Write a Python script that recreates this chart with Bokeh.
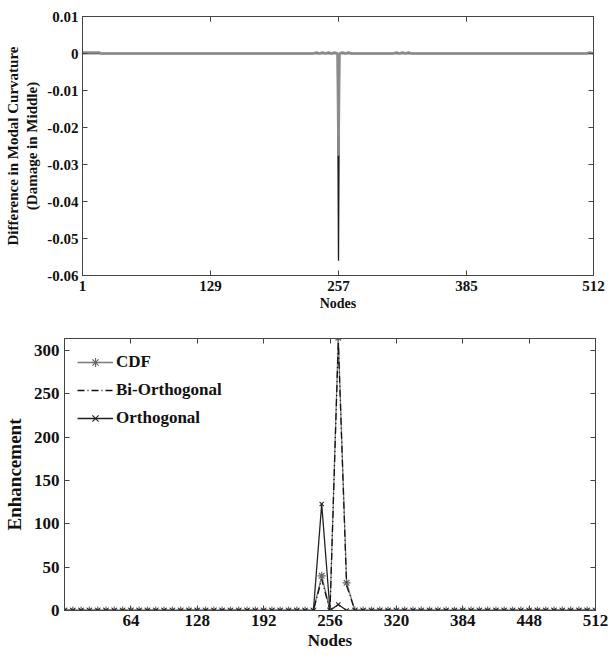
from bokeh.plotting import figure
from bokeh.models import FixedTicker, LinearAxis, Legend, LegendItem, Range1d
from bokeh.embed import file_html
from bokeh.resources import INLINE

# ---------------- data: top panel ----------------
top_x_ticks = [1, 129, 257, 385, 512]
top_y_ticks = [0.01, 0, -0.01, -0.02, -0.03, -0.04, -0.05, -0.06]
top_y_labels = ["0.01", "0", "-0.01", "-0.02", "-0.03", "-0.04", "-0.05", "-0.06"]

gray_nodes = [1, 18, 19, 232, 235, 238, 241, 244, 247, 250, 253, 256, 257, 258,
              261, 264, 267, 270, 312, 315, 318, 321, 324, 327, 330, 505, 508, 512]
gray_vals = [0.0003, 0.0003, 0.0, 0.0, 0.0003, 0.0, 0.0003, 0.0, 0.0003, 0.0, 0.0003, 0.0, -0.0276, 0.0,
             0.0003, 0.0, 0.0003, 0.0, 0.0, 0.0003, 0.0, 0.0003, 0.0, 0.0003, 0.0, 0.0, 0.0003, 0.0]

black_nodes = [1, 256, 257, 258, 512]
black_vals = [0.0, 0.0, -0.056, 0.0, 0.0]

# ---------------- data: bottom panel ----------------
bot_x_ticks = [64, 128, 192, 256, 320, 384, 448, 512]
bot_y_ticks = [0, 50, 100, 150, 200, 250, 300]

nodes = [0, 8, 16, 24, 32, 40, 48, 56, 64, 72, 80, 88, 96, 104, 112, 120,
         128, 136, 144, 152, 160, 168, 176, 184, 192, 200, 208, 216, 224, 232, 240, 248,
         256, 264, 272, 280, 288, 296, 304, 312, 320, 328, 336, 344, 352, 360, 368, 376,
         384, 392, 400, 408, 416, 424, 432, 440, 448, 456, 464, 472, 480, 488, 496, 504, 512]
cdf = [0, 0, 0, 0, 0, 0, 0, 0, 0, 0, 0, 0, 0, 0, 0, 0,
       0, 0, 0, 0, 0, 0, 0, 0, 0, 0, 0, 0, 0, 0, 0, 40,
       0, 315, 32, 0, 0, 0, 0, 0, 0, 0, 0, 0, 0, 0, 0, 0,
       0, 0, 0, 0, 0, 0, 0, 0, 0, 0, 0, 0, 0, 0, 0, 0, 0]
bi_orth = [0, 0, 0, 0, 0, 0, 0, 0, 0, 0, 0, 0, 0, 0, 0, 0,
           0, 0, 0, 0, 0, 0, 0, 0, 0, 0, 0, 0, 0, 0, 0, 36,
           0, 310, 29, 0, 0, 0, 0, 0, 0, 0, 0, 0, 0, 0, 0, 0,
           0, 0, 0, 0, 0, 0, 0, 0, 0, 0, 0, 0, 0, 0, 0, 0, 0]
orth = [0, 0, 0, 0, 0, 0, 0, 0, 0, 0, 0, 0, 0, 0, 0, 0,
        0, 0, 0, 0, 0, 0, 0, 0, 0, 0, 0, 0, 0, 0, 0, 123,
        0, 7, 0, 0, 0, 0, 0, 0, 0, 0, 0, 0, 0, 0, 0, 0,
        0, 0, 0, 0, 0, 0, 0, 0, 0, 0, 0, 0, 0, 0, 0, 0, 0]
series_names = ["CDF", "Bi-Orthogonal", "Orthogonal"]

FONT = "Liberation Serif"
FRAME = "#444444"


def style_axis(ax, size):
    ax.major_label_text_font = FONT
    ax.major_label_text_font_style = "bold"
    ax.major_label_text_font_size = size
    ax.major_label_text_color = "#111111"
    ax.axis_label_text_font = FONT
    ax.axis_label_text_font_style = "bold"
    ax.axis_label_text_color = "#111111"
    ax.axis_line_color = FRAME
    ax.major_tick_line_color = FRAME
    ax.major_tick_in = 5
    ax.major_tick_out = 0
    ax.minor_tick_line_color = None


def box_axes(p, xt, yt):
    for loc, ticks in (("above", xt), ("right", yt)):
        ax = LinearAxis(ticker=FixedTicker(ticks=ticks))
        style_axis(ax, "0px")
        ax.major_label_standoff = 0
        ax.major_label_text_alpha = 0
        p.add_layout(ax, loc)


# ---------------- top figure ----------------
p1 = figure(frame_width=511, frame_height=259, x_range=Range1d(1, 512),
            y_range=Range1d(-0.06, 0.01), output_backend="svg", toolbar_location=None,
            min_border_left=82, min_border_right=15, min_border_top=16, min_border_bottom=40)
p1.grid.visible = False
p1.outline_line_color = FRAME
p1.xaxis.ticker = FixedTicker(ticks=top_x_ticks)
p1.yaxis.ticker = FixedTicker(ticks=top_y_ticks)
p1.yaxis.major_label_overrides = dict(zip(top_y_ticks, top_y_labels))
for ax in (p1.xaxis[0], p1.yaxis[0]):
    style_axis(ax, "15px")
p1.xaxis.axis_label = "Nodes"
p1.xaxis.axis_label_text_font_size = "14px"
p1.xaxis.major_label_standoff = 5
p1.xaxis.axis_label_standoff = 2
p1.yaxis.axis_label = "Difference in Modal Curvature\n(Damage in Middle)"
p1.yaxis.axis_label_text_font_size = "15px"
p1.yaxis.major_label_standoff = 4
p1.yaxis.axis_label_standoff = 4
box_axes(p1, top_x_ticks, top_y_ticks)

p1.line(black_nodes, black_vals, line_color="#1a1a1a", line_width=1.3)
p1.line(gray_nodes, gray_vals, line_color="#8c8c8c", line_width=2.5)

# ---------------- bottom figure ----------------
p2 = figure(frame_width=531, frame_height=272, x_range=Range1d(0, 512),
            y_range=Range1d(0, 314), output_backend="svg", toolbar_location=None,
            min_border_left=63, min_border_right=14, min_border_top=23, min_border_bottom=47)
p2.grid.visible = False
p2.outline_line_color = FRAME
p2.xaxis.ticker = FixedTicker(ticks=bot_x_ticks)
p2.yaxis.ticker = FixedTicker(ticks=bot_y_ticks)
for ax in (p2.xaxis[0], p2.yaxis[0]):
    style_axis(ax, "17px")
p2.xaxis.axis_label = "Nodes"
p2.xaxis.axis_label_text_font_size = "17px"
p2.xaxis.major_label_standoff = 4
p2.xaxis.axis_label_standoff = 2
p2.yaxis.axis_label = "Enhancement"
p2.yaxis.axis_label_text_font_size = "19px"
p2.yaxis.major_label_standoff = 5
p2.yaxis.axis_label_standoff = 6
box_axes(p2, bot_x_ticks, bot_y_ticks)

r_cdf_l = p2.line(nodes, cdf, line_color="#7a7a7a", line_width=1.3)
r_cdf_m = p2.scatter(nodes, cdf, marker="asterisk", size=8, line_color="#6a6a6a", line_width=1.2)
r_bi = p2.line(nodes, bi_orth, line_color="#111111", line_width=1.3, line_dash="7 3 1 3")
r_or_l = p2.line(nodes, orth, line_color="#222222", line_width=1.3)
r_or_m = p2.scatter(nodes, orth, marker="x", size=6, line_color="#222222", line_width=1.1)

legend = Legend(items=[
    LegendItem(label=series_names[0], renderers=[r_cdf_l, r_cdf_m]),
    LegendItem(label=series_names[1], renderers=[r_bi]),
    LegendItem(label=series_names[2], renderers=[r_or_l, r_or_m]),
], location="top_left")
legend.background_fill_alpha = 0
legend.border_line_color = None
legend.label_text_font = FONT
legend.label_text_font_style = "bold"
legend.label_text_font_size = "17px"
legend.label_text_color = "#111111"
legend.glyph_width = 36
legend.glyph_height = 22
legend.label_height = 22
legend.label_standoff = 3
legend.spacing = 6
legend.margin = 13
legend.padding = 2
p2.add_layout(legend)

# two separate roots, stacked, so that each frame keeps its own left border
open("out.html", "w").write(file_html([p1, p2], INLINE))
